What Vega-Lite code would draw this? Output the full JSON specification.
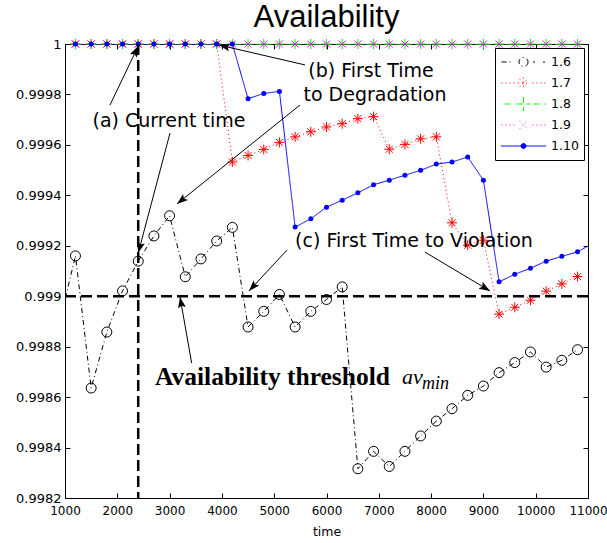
{
  "$schema": "https://vega.github.io/schema/vega-lite/v6.json",
  "width": 523,
  "height": 454,
  "autosize": {"type": "none"},
  "padding": {"left": 65, "top": 44, "right": 19, "bottom": 45},
  "background": "white",
  "title": {"text": "Availability", "font": "Liberation Sans", "fontSize": 31, "fontWeight": "normal", "color": "black", "anchor": "middle", "frame": "group", "baseline": "alphabetic", "offset": 0, "dy": 21},
  "datasets": {
    "series": [
      {"series": "1.6", "time": 900, "value": 0.9989},
      {"series": "1.6", "time": 1200, "value": 0.99916},
      {"series": "1.6", "time": 1500, "value": 0.998636},
      {"series": "1.6", "time": 1800, "value": 0.998858},
      {"series": "1.6", "time": 2100, "value": 0.999021},
      {"series": "1.6", "time": 2400, "value": 0.999139},
      {"series": "1.6", "time": 2700, "value": 0.999239},
      {"series": "1.6", "time": 3000, "value": 0.999319},
      {"series": "1.6", "time": 3300, "value": 0.999077},
      {"series": "1.6", "time": 3600, "value": 0.999148},
      {"series": "1.6", "time": 3900, "value": 0.999219},
      {"series": "1.6", "time": 4200, "value": 0.999273},
      {"series": "1.6", "time": 4500, "value": 0.998878},
      {"series": "1.6", "time": 4800, "value": 0.99894},
      {"series": "1.6", "time": 5100, "value": 0.999007},
      {"series": "1.6", "time": 5400, "value": 0.998878},
      {"series": "1.6", "time": 5700, "value": 0.99894},
      {"series": "1.6", "time": 6000, "value": 0.998987},
      {"series": "1.6", "time": 6300, "value": 0.999037},
      {"series": "1.6", "time": 6600, "value": 0.998316},
      {"series": "1.6", "time": 6900, "value": 0.998385},
      {"series": "1.6", "time": 7200, "value": 0.998325},
      {"series": "1.6", "time": 7500, "value": 0.998385},
      {"series": "1.6", "time": 7800, "value": 0.998446},
      {"series": "1.6", "time": 8100, "value": 0.998505},
      {"series": "1.6", "time": 8400, "value": 0.998554},
      {"series": "1.6", "time": 8700, "value": 0.998607},
      {"series": "1.6", "time": 9000, "value": 0.998644},
      {"series": "1.6", "time": 9300, "value": 0.998697},
      {"series": "1.6", "time": 9600, "value": 0.998737},
      {"series": "1.6", "time": 9900, "value": 0.998779},
      {"series": "1.6", "time": 10200, "value": 0.998719},
      {"series": "1.6", "time": 10500, "value": 0.998746},
      {"series": "1.6", "time": 10800, "value": 0.998788},
      {"series": "1.7", "time": 1200, "value": 1},
      {"series": "1.7", "time": 1500, "value": 1},
      {"series": "1.7", "time": 1800, "value": 1},
      {"series": "1.7", "time": 2100, "value": 1},
      {"series": "1.7", "time": 2400, "value": 1},
      {"series": "1.7", "time": 2700, "value": 1},
      {"series": "1.7", "time": 3000, "value": 1},
      {"series": "1.7", "time": 3300, "value": 1},
      {"series": "1.7", "time": 3600, "value": 1},
      {"series": "1.7", "time": 3900, "value": 1},
      {"series": "1.7", "time": 4200, "value": 0.999532},
      {"series": "1.7", "time": 4500, "value": 0.999558},
      {"series": "1.7", "time": 4800, "value": 0.999582},
      {"series": "1.7", "time": 5100, "value": 0.99961},
      {"series": "1.7", "time": 5400, "value": 0.999632},
      {"series": "1.7", "time": 5700, "value": 0.999652},
      {"series": "1.7", "time": 6000, "value": 0.999671},
      {"series": "1.7", "time": 6300, "value": 0.999684},
      {"series": "1.7", "time": 6600, "value": 0.999704},
      {"series": "1.7", "time": 6900, "value": 0.999712},
      {"series": "1.7", "time": 7200, "value": 0.999583},
      {"series": "1.7", "time": 7500, "value": 0.999602},
      {"series": "1.7", "time": 7800, "value": 0.999624},
      {"series": "1.7", "time": 8100, "value": 0.999632},
      {"series": "1.7", "time": 8400, "value": 0.999291},
      {"series": "1.7", "time": 8700, "value": 0.999202},
      {"series": "1.7", "time": 9000, "value": 0.999222},
      {"series": "1.7", "time": 9300, "value": 0.998929},
      {"series": "1.7", "time": 9600, "value": 0.998956},
      {"series": "1.7", "time": 9900, "value": 0.998984},
      {"series": "1.7", "time": 10200, "value": 0.99902},
      {"series": "1.7", "time": 10500, "value": 0.999049},
      {"series": "1.7", "time": 10800, "value": 0.999078},
      {"series": "1.8", "time": 1200, "value": 1},
      {"series": "1.8", "time": 1500, "value": 1},
      {"series": "1.8", "time": 1800, "value": 1},
      {"series": "1.8", "time": 2100, "value": 1},
      {"series": "1.8", "time": 2400, "value": 1},
      {"series": "1.8", "time": 2700, "value": 1},
      {"series": "1.8", "time": 3000, "value": 1},
      {"series": "1.8", "time": 3300, "value": 1},
      {"series": "1.8", "time": 3600, "value": 1},
      {"series": "1.8", "time": 3900, "value": 1},
      {"series": "1.8", "time": 4200, "value": 1},
      {"series": "1.8", "time": 4500, "value": 1},
      {"series": "1.8", "time": 4800, "value": 1},
      {"series": "1.8", "time": 5100, "value": 1},
      {"series": "1.8", "time": 5400, "value": 1},
      {"series": "1.8", "time": 5700, "value": 1},
      {"series": "1.8", "time": 6000, "value": 1},
      {"series": "1.8", "time": 6300, "value": 1},
      {"series": "1.8", "time": 6600, "value": 1},
      {"series": "1.8", "time": 6900, "value": 1},
      {"series": "1.8", "time": 7200, "value": 1},
      {"series": "1.8", "time": 7500, "value": 1},
      {"series": "1.8", "time": 7800, "value": 1},
      {"series": "1.8", "time": 8100, "value": 1},
      {"series": "1.8", "time": 8400, "value": 1},
      {"series": "1.8", "time": 8700, "value": 1},
      {"series": "1.8", "time": 9000, "value": 1},
      {"series": "1.8", "time": 9300, "value": 1},
      {"series": "1.8", "time": 9600, "value": 1},
      {"series": "1.8", "time": 9900, "value": 1},
      {"series": "1.8", "time": 10200, "value": 1},
      {"series": "1.8", "time": 10500, "value": 1},
      {"series": "1.8", "time": 10800, "value": 1},
      {"series": "1.9", "time": 1200, "value": 1},
      {"series": "1.9", "time": 1500, "value": 1},
      {"series": "1.9", "time": 1800, "value": 1},
      {"series": "1.9", "time": 2100, "value": 1},
      {"series": "1.9", "time": 2400, "value": 1},
      {"series": "1.9", "time": 2700, "value": 1},
      {"series": "1.9", "time": 3000, "value": 1},
      {"series": "1.9", "time": 3300, "value": 1},
      {"series": "1.9", "time": 3600, "value": 1},
      {"series": "1.9", "time": 3900, "value": 1},
      {"series": "1.9", "time": 4200, "value": 1},
      {"series": "1.9", "time": 4500, "value": 1},
      {"series": "1.9", "time": 4800, "value": 1},
      {"series": "1.9", "time": 5100, "value": 1},
      {"series": "1.9", "time": 5400, "value": 1},
      {"series": "1.9", "time": 5700, "value": 1},
      {"series": "1.9", "time": 6000, "value": 1},
      {"series": "1.9", "time": 6300, "value": 1},
      {"series": "1.9", "time": 6600, "value": 1},
      {"series": "1.9", "time": 6900, "value": 1},
      {"series": "1.9", "time": 7200, "value": 1},
      {"series": "1.9", "time": 7500, "value": 1},
      {"series": "1.9", "time": 7800, "value": 1},
      {"series": "1.9", "time": 8100, "value": 1},
      {"series": "1.9", "time": 8400, "value": 1},
      {"series": "1.9", "time": 8700, "value": 1},
      {"series": "1.9", "time": 9000, "value": 1},
      {"series": "1.9", "time": 9300, "value": 1},
      {"series": "1.9", "time": 9600, "value": 1},
      {"series": "1.9", "time": 9900, "value": 1},
      {"series": "1.9", "time": 10200, "value": 1},
      {"series": "1.9", "time": 10500, "value": 1},
      {"series": "1.9", "time": 10800, "value": 1},
      {"series": "1.10", "time": 1200, "value": 1},
      {"series": "1.10", "time": 1500, "value": 1},
      {"series": "1.10", "time": 1800, "value": 1},
      {"series": "1.10", "time": 2100, "value": 1},
      {"series": "1.10", "time": 2400, "value": 1},
      {"series": "1.10", "time": 2700, "value": 1},
      {"series": "1.10", "time": 3000, "value": 1},
      {"series": "1.10", "time": 3300, "value": 1},
      {"series": "1.10", "time": 3600, "value": 1},
      {"series": "1.10", "time": 3900, "value": 1},
      {"series": "1.10", "time": 4200, "value": 1},
      {"series": "1.10", "time": 4500, "value": 0.999783},
      {"series": "1.10", "time": 4800, "value": 0.999804},
      {"series": "1.10", "time": 5100, "value": 0.999812},
      {"series": "1.10", "time": 5400, "value": 0.999274},
      {"series": "1.10", "time": 5700, "value": 0.999307},
      {"series": "1.10", "time": 6000, "value": 0.999353},
      {"series": "1.10", "time": 6300, "value": 0.999381},
      {"series": "1.10", "time": 6600, "value": 0.99941},
      {"series": "1.10", "time": 6900, "value": 0.999442},
      {"series": "1.10", "time": 7200, "value": 0.99946},
      {"series": "1.10", "time": 7500, "value": 0.99948},
      {"series": "1.10", "time": 7800, "value": 0.999499},
      {"series": "1.10", "time": 8100, "value": 0.999524},
      {"series": "1.10", "time": 8400, "value": 0.999532},
      {"series": "1.10", "time": 8700, "value": 0.999552},
      {"series": "1.10", "time": 9000, "value": 0.99946},
      {"series": "1.10", "time": 9300, "value": 0.999057},
      {"series": "1.10", "time": 9600, "value": 0.999087},
      {"series": "1.10", "time": 9900, "value": 0.999111},
      {"series": "1.10", "time": 10200, "value": 0.999139},
      {"series": "1.10", "time": 10500, "value": 0.999158},
      {"series": "1.10", "time": 10800, "value": 0.999176},
      {"series": "1.10", "time": 11100, "value": 0.99921}
    ],
    "arrows": [
      {"id": "a1", "time": 1860, "value": 0.999758, "time2": 2400, "value2": 0.999992},
      {"id": "a2", "time": 3008, "value": 0.999647, "time2": 2400, "value2": 0.999171},
      {"id": "b1", "time": 5589, "value": 0.999917, "time2": 3944, "value2": 0.999996},
      {"id": "b2", "time": 5493, "value": 0.999758, "time2": 3141, "value2": 0.999366},
      {"id": "c1", "time": 5245, "value": 0.999183, "time2": 4518, "value2": 0.999021},
      {"id": "c2", "time": 7883, "value": 0.999175, "time2": 9126, "value2": 0.999021},
      {"id": "t1", "time": 3422, "value": 0.998735, "time2": 3199, "value2": 0.998997}
    ],
    "notes": [
      {"note": "(a) Current time", "time": 2988, "value": 0.99967},
      {"note": "(b) First Time", "time": 6851, "value": 0.999869},
      {"note": "to Degradation", "time": 6927, "value": 0.999774},
      {"note": "(c) First Time to Violation", "time": 7673, "value": 0.999196}
    ],
    "thr": [
      {"note": "Availability threshold", "time": 2721, "value": 0.998648}
    ],
    "av": [
      {"note": "av", "time": 7443, "value": 0.998652}
    ],
    "min": [
      {"note": "min", "time": 7826, "value": 0.998632}
    ]
  },
  "layer": [
    {
      "data": {"name": "series"},
      "mark": {"type": "line", "clip": true, "strokeWidth": 1},
      "encoding": {
        "x": {"field": "time", "type": "quantitative", "scale": {"domain": [1000, 11000], "nice": false, "zero": false},
          "axis": {"orient": "bottom", "values": [1000, 2000, 3000, 4000, 5000, 6000, 7000, 8000, 9000, 10000, 11000], "format": "d", "title": "time", "grid": false, "domain": false, "tickSize": -5, "tickColor": "black", "labelPadding": 12, "labelFlush": false, "labelOverlap": false, "labelFont": "DejaVu Sans", "labelFontSize": 12, "labelColor": "black", "titleFont": "DejaVu Sans", "titleFontSize": 12.5, "titleFontWeight": "normal", "titleColor": "black", "titlePadding": 9}},
        "y": {"field": "value", "type": "quantitative", "scale": {"domain": [0.9982, 1], "nice": false, "zero": false},
          "axis": {"orient": "left", "values": [0.9982, 0.9984, 0.9986, 0.9988, 0.999, 0.9992, 0.9994, 0.9996, 0.9998, 1], "format": ".4~f", "title": null, "grid": false, "domain": false, "tickSize": -5, "tickColor": "black", "labelPadding": 9, "labelFlush": false, "labelOverlap": false, "labelFont": "DejaVu Sans", "labelFontSize": 13, "labelColor": "black"}},
        "color": {"field": "series", "type": "nominal", "scale": {"domain": ["1.6", "1.7", "1.8", "1.9", "1.10"], "range": ["#000000", "#ff0000", "#00ff00", "#ff00ff", "#0000ff"]},
          "legend": {
            "title": null, "orient": "top-right", "offset": 4, "padding": 5, "strokeColor": "black", "fillColor": "white",
            "symbolSize": 2050, "symbolStrokeWidth": 1, "clipHeight": 18, "rowPadding": 3, "labelOffset": 4,
            "labelFont": "DejaVu Sans", "labelFontSize": 12.5, "labelColor": "black",
            "encoding": {
              "symbols": {
                "shape": {"condition": [
                  {"test": "datum.value === '1.6'", "value": "M-0.97,0H-0.49M0.42,0H0.51M0.86,0H0.95M0.2,0A0.2,0.2,0,1,1,-0.2,0A0.2,0.2,0,1,1,0.2,0"},
                  {"test": "datum.value === '1.7'", "value": "M-0.97,0H-0.92M-0.8,0H-0.75M-0.62,0H-0.57M-0.44,0H-0.39M0.39,0H0.44M0.57,0H0.62M0.75,0H0.8M0.92,0H0.97M-0.24,0H0.24M0,-0.24V0.24M-0.17,-0.17L0.17,0.17M-0.17,0.17L0.17,-0.17"},
                  {"test": "datum.value === '1.8'", "value": "M-0.84,0H-0.38M-0.31,0H0.31M0,-0.31V0.31M0.45,0H0.97"},
                  {"test": "datum.value === '1.9'", "value": "M-0.97,0H-0.92M-0.8,0H-0.75M-0.62,0H-0.57M-0.44,0H-0.39M0.39,0H0.44M0.57,0H0.62M0.75,0H0.8M0.92,0H0.97M-0.18,-0.18L0.18,0.18M-0.18,0.18L0.18,-0.18"}
                ], "value": "M-1,0H1M0.11,0A0.11,0.11,0,1,1,-0.11,0A0.11,0.11,0,1,1,0.11,0"},
                "fill": {"condition": {"test": "datum.value === '1.10'", "value": "#0000ff"}, "value": "transparent"},
                "stroke": {"condition": [
                  {"test": "datum.value === '1.6'", "value": "#000000"},
                  {"test": "datum.value === '1.7'", "value": "#ff0000"},
                  {"test": "datum.value === '1.8'", "value": "#00ff00"},
                  {"test": "datum.value === '1.9'", "value": "#ff00ff"}
                ], "value": "#0000ff"},
                "size": {"value": 2050},
                "strokeWidth": {"value": 1},
                "opacity": {"value": 1}
              }
            }
          }},
        "strokeDash": {"field": "series", "type": "nominal", "scale": {"domain": ["1.6", "1.7", "1.8", "1.9", "1.10"], "range": [[5, 3, 1, 3], [1, 3], [6, 4], [1, 3], [1, 0]]}, "legend": null}
      }
    },
    {
      "data": {"name": "series"},
      "transform": [{"filter": "datum.series !== '1.10' && datum.time >= 1000 && datum.time <= 11000"}],
      "mark": {"type": "point", "filled": false, "strokeWidth": 1, "size": 100, "opacity": 1},
      "encoding": {
        "x": {"field": "time", "type": "quantitative", "axis": null},
        "y": {"field": "value", "type": "quantitative", "axis": null},
        "color": {"field": "series", "type": "nominal"},
        "shape": {"field": "series", "type": "nominal", "scale": {"domain": ["1.6", "1.7", "1.8", "1.9"], "range": ["circle", "M-1,0H1M0,-1V1M-0.7,-0.7L0.7,0.7M-0.7,0.7L0.7,-0.7", "M-1,0H1M0,-1V1", "M-0.7,-0.7L0.7,0.7M-0.7,0.7L0.7,-0.7"]}, "legend": null}
      }
    },
    {
      "data": {"name": "series"},
      "transform": [{"filter": "datum.series === '1.10' && datum.time >= 1000 && datum.time <= 11000"}],
      "mark": {"type": "point", "shape": "circle", "filled": true, "color": "#0000ff", "size": 25, "opacity": 1},
      "encoding": {
        "x": {"field": "time", "type": "quantitative", "axis": null},
        "y": {"field": "value", "type": "quantitative", "axis": null}
      }
    },
    {
      "data": {"name": "thr"},
      "mark": {"type": "rule", "color": "black", "strokeWidth": 2.5, "strokeDash": [11, 5]},
      "encoding": {"x": {"datum": 2400, "type": "quantitative", "axis": null}}
    },
    {
      "data": {"name": "thr"},
      "mark": {"type": "rule", "color": "black", "strokeWidth": 2.5, "strokeDash": [11, 5]},
      "encoding": {"y": {"datum": 0.999, "type": "quantitative", "axis": null}}
    },
    {
      "data": {"name": "arrows"},
      "mark": {"type": "rule", "color": "black", "strokeWidth": 1},
      "encoding": {
        "x": {"field": "time", "type": "quantitative", "axis": {"orient": "top", "values": [1000, 2000, 3000, 4000, 5000, 6000, 7000, 8000, 9000, 10000, 11000], "labels": false, "title": null, "grid": false, "domain": false, "tickSize": -5, "tickColor": "black"}},
        "y": {"field": "value", "type": "quantitative", "axis": {"orient": "right", "values": [0.9982, 0.9984, 0.9986, 0.9988, 0.999, 0.9992, 0.9994, 0.9996, 0.9998, 1], "labels": false, "title": null, "grid": false, "domain": false, "tickSize": -5, "tickColor": "black"}},
        "x2": {"field": "time2"},
        "y2": {"field": "value2"}
      }
    },
    {"data": {"name": "arrows"}, "transform": [{"filter": "datum.id === 'a1'"}],
      "mark": {"type": "point", "shape": "M0,0L-0.36,1L0,0.8L0.36,1Z", "filled": true, "color": "black", "size": 484, "opacity": 1, "angle": 25.8},
      "encoding": {"x": {"field": "time2", "type": "quantitative", "axis": null}, "y": {"field": "value2", "type": "quantitative", "axis": null}}},
    {"data": {"name": "arrows"}, "transform": [{"filter": "datum.id === 'a2'"}],
      "mark": {"type": "point", "shape": "M0,0L-0.36,1L0,0.8L0.36,1Z", "filled": true, "color": "black", "size": 484, "opacity": 1, "angle": 194.5},
      "encoding": {"x": {"field": "time2", "type": "quantitative", "axis": null}, "y": {"field": "value2", "type": "quantitative", "axis": null}}},
    {"data": {"name": "arrows"}, "transform": [{"filter": "datum.id === 'b1'"}],
      "mark": {"type": "point", "shape": "M0,0L-0.36,1L0,0.8L0.36,1Z", "filled": true, "color": "black", "size": 484, "opacity": 1, "angle": 283.1},
      "encoding": {"x": {"field": "time2", "type": "quantitative", "axis": null}, "y": {"field": "value2", "type": "quantitative", "axis": null}}},
    {"data": {"name": "arrows"}, "transform": [{"filter": "datum.id === 'b2'"}],
      "mark": {"type": "point", "shape": "M0,0L-0.36,1L0,0.8L0.36,1Z", "filled": true, "color": "black", "size": 484, "opacity": 1, "angle": 231.2},
      "encoding": {"x": {"field": "time2", "type": "quantitative", "axis": null}, "y": {"field": "value2", "type": "quantitative", "axis": null}}},
    {"data": {"name": "arrows"}, "transform": [{"filter": "datum.id === 'c1'"}],
      "mark": {"type": "point", "shape": "M0,0L-0.36,1L0,0.8L0.36,1Z", "filled": true, "color": "black", "size": 484, "opacity": 1, "angle": 222.8},
      "encoding": {"x": {"field": "time2", "type": "quantitative", "axis": null}, "y": {"field": "value2", "type": "quantitative", "axis": null}}},
    {"data": {"name": "arrows"}, "transform": [{"filter": "datum.id === 'c2'"}],
      "mark": {"type": "point", "shape": "M0,0L-0.36,1L0,0.8L0.36,1Z", "filled": true, "color": "black", "size": 484, "opacity": 1, "angle": 121},
      "encoding": {"x": {"field": "time2", "type": "quantitative", "axis": null}, "y": {"field": "value2", "type": "quantitative", "axis": null}}},
    {"data": {"name": "arrows"}, "transform": [{"filter": "datum.id === 't1'"}],
      "mark": {"type": "point", "shape": "M0,0L-0.36,1L0,0.8L0.36,1Z", "filled": true, "color": "black", "size": 484, "opacity": 1, "angle": 349.9},
      "encoding": {"x": {"field": "time2", "type": "quantitative", "axis": null}, "y": {"field": "value2", "type": "quantitative", "axis": null}}},
    {
      "data": {"name": "notes"},
      "mark": {"type": "text", "font": "DejaVu Sans", "fontSize": 19, "align": "center", "baseline": "alphabetic", "color": "black"},
      "encoding": {
        "x": {"field": "time", "type": "quantitative", "axis": null},
        "y": {"field": "value", "type": "quantitative", "axis": null},
        "text": {"field": "note"}
      }
    },
    {
      "data": {"name": "thr"},
      "mark": {"type": "text", "font": "Liberation Serif", "fontSize": 25.5, "fontWeight": "bold", "align": "left", "baseline": "alphabetic", "color": "black"},
      "encoding": {
        "x": {"field": "time", "type": "quantitative", "axis": null},
        "y": {"field": "value", "type": "quantitative", "axis": null},
        "text": {"field": "note"}
      }
    },
    {
      "data": {"name": "av"},
      "mark": {"type": "text", "font": "Liberation Serif", "fontSize": 22, "fontStyle": "italic", "align": "left", "baseline": "alphabetic", "color": "black"},
      "encoding": {
        "x": {"field": "time", "type": "quantitative", "axis": null},
        "y": {"field": "value", "type": "quantitative", "axis": null},
        "text": {"field": "note"}
      }
    },
    {
      "data": {"name": "min"},
      "mark": {"type": "text", "font": "Liberation Serif", "fontSize": 18, "fontStyle": "italic", "align": "left", "baseline": "alphabetic", "color": "black"},
      "encoding": {
        "x": {"field": "time", "type": "quantitative", "axis": null},
        "y": {"field": "value", "type": "quantitative", "axis": null},
        "text": {"field": "note"}
      }
    }
  ],
  "resolve": {"axis": {"x": "independent", "y": "independent"}},
  "config": {
    "view": {"stroke": "black", "strokeWidth": 1},
    "axis": {"ticks": true, "tickWidth": 1}
  }
}
